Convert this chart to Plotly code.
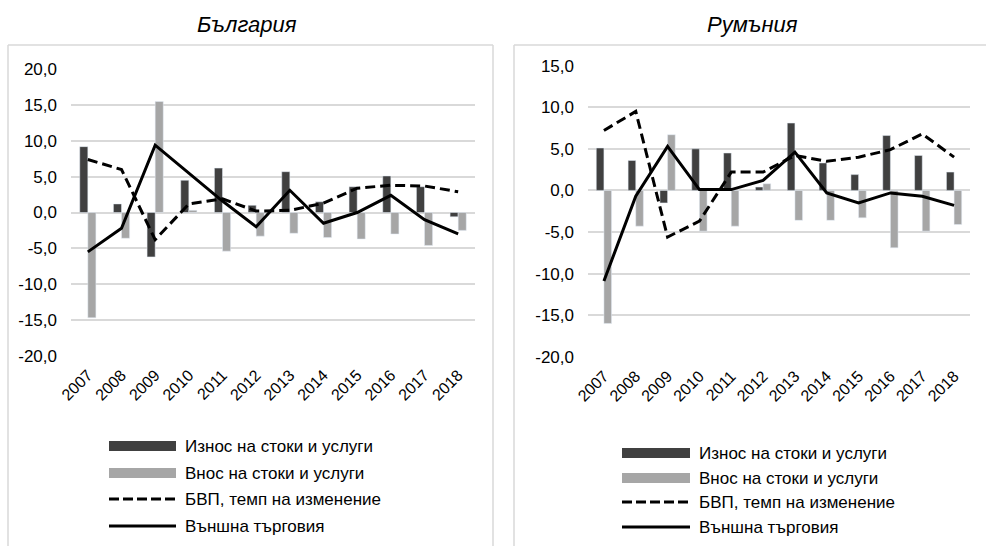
import plotly.graph_objects as go

years = [str(y) for y in range(2007, 2019)]
series_names = ["Износ на стоки и услуги", "Внос на стоки и услуги",
                "БВП, темп на изменение", "Външна търговия"]
panel_titles = ["България", "Румъния"]

bg_exports = [9.2, 1.2, -6.2, 4.5, 6.2, 1.0, 5.7, 1.5, 3.6, 5.1, 3.6, -0.6]
bg_imports = [-14.7, -3.6, 15.5, 0.3, -5.4, -3.3, -2.9, -3.5, -3.7, -3.0, -4.6, -2.5]
bg_gdp = [7.4, 6.0, -3.8, 1.2, 1.9, 0.2, 0.3, 1.3, 3.4, 3.8, 3.7, 2.9]
bg_trade = [-5.5, -2.2, 9.4, 5.5, 1.6, -2.0, 3.1, -1.5, 0.0, 2.4, -1.0, -3.0]

ro_exports = [5.1, 3.6, -1.5, 5.0, 4.5, 0.4, 8.1, 3.3, 1.9, 6.6, 4.2, 2.2]
ro_imports = [-16.0, -4.3, 6.7, -4.9, -4.3, 0.8, -3.6, -3.6, -3.3, -6.9, -4.9, -4.1]
ro_gdp = [7.2, 9.5, -5.6, -3.7, 2.2, 2.2, 4.2, 3.5, 4.0, 4.9, 6.8, 4.0]
ro_trade = [-10.9, -0.7, 5.3, 0.1, 0.1, 1.2, 4.6, -0.3, -1.5, -0.3, -0.7, -1.8]

bg_tickvals = [-20, -15, -10, -5, 0, 5, 10, 15, 20]
bg_ticktext = ["-20,0", "-15,0", "-10,0", "-5,0", "0,0", "5,0", "10,0", "15,0", "20,0"]
ro_tickvals = [-20, -15, -10, -5, 0, 5, 10, 15]
ro_ticktext = ["-20,0", "-15,0", "-10,0", "-5,0", "0,0", "5,0", "10,0", "15,0"]

DARK = "#404040"
LIGHT = "#a6a6a6"
GRID = "#d9d9d9"
FONT = "Liberation Sans, Arial, sans-serif"
W, H = 986, 546

fig = go.Figure()

def add_panel(xa, ya, exp, imp, gdp, trade):
    fig.add_trace(go.Bar(x=years, y=exp, marker_color=DARK, name=series_names[0],
                         xaxis=xa, yaxis=ya, showlegend=False, offsetgroup="a"))
    fig.add_trace(go.Bar(x=years, y=imp, marker_color=LIGHT, name=series_names[1],
                         xaxis=xa, yaxis=ya, showlegend=False, offsetgroup="b"))
    fig.add_trace(go.Scatter(x=years, y=gdp, mode="lines", name=series_names[2],
                             line=dict(color="black", width=3, dash="10px,5px"),
                             xaxis=xa, yaxis=ya, showlegend=False))
    fig.add_trace(go.Scatter(x=years, y=trade, mode="lines", name=series_names[3],
                             line=dict(color="black", width=3),
                             xaxis=xa, yaxis=ya, showlegend=False))

add_panel("x", "y", bg_exports, bg_imports, bg_gdp, bg_trade)
add_panel("x2", "y2", ro_exports, ro_imports, ro_gdp, ro_trade)

def px_x(v):
    return v / W

def px_y(v):
    return 1 - v / H

xcommon = dict(type="category", tickangle=-45, showgrid=False, showline=False,
               zeroline=False, ticks="", tickfont=dict(size=16, color="black", family=FONT),
               ticklabelstandoff=6, automargin=False)
ycommon = dict(showgrid=True, gridcolor=GRID, gridwidth=1.5, zeroline=False, showline=False,
               ticks="", tickmode="array", automargin=False,
               tickfont=dict(size=17, color="black", family=FONT), ticklabelstandoff=13)

fig.update_layout(
    width=W, height=H, autosize=False,
    margin=dict(l=0, r=0, t=0, b=0, pad=0, autoexpand=False),
    paper_bgcolor="white", plot_bgcolor="white",
    barmode="group", bargap=0.52, bargroupgap=0,
    font=dict(family=FONT, color="black"),
    xaxis=dict(domain=[px_x(71), px_x(475)], anchor="y", **xcommon),
    yaxis=dict(domain=[px_y(355.7), px_y(69.3)], anchor="x", range=[-20, 20],
               tickvals=bg_tickvals, ticktext=bg_ticktext, **ycommon),
    xaxis2=dict(domain=[px_x(588), px_x(970)], anchor="y2", **xcommon),
    yaxis2=dict(domain=[px_y(356.7), px_y(65.7)], anchor="x2", range=[-20, 15],
                tickvals=ro_tickvals, ticktext=ro_ticktext, **ycommon),
)

shapes = []
annotations = []
# panel box edges (boxes run past the bottom/right of the picture)
box_line = dict(color=GRID, width=1.5)
box_edges = [
    (8, 45, 493, 45), (8, 45, 8, 546), (493, 45, 493, 546),
    (514, 45, 986, 45), (514, 45, 514, 546),
]
for x0, y0, x1, y1 in box_edges:
    shapes.append(dict(type="line", xref="paper", yref="paper",
                       x0=px_x(x0), x1=px_x(x1), y0=px_y(y0), y1=px_y(y1),
                       line=box_line, layer="below"))

# titles
for title, cx in zip(panel_titles, [247, 752]):
    annotations.append(dict(text="<i>" + title + "</i>", xref="paper", yref="paper",
                            x=px_x(cx), y=px_y(25), xanchor="center", yanchor="middle",
                            showarrow=False, font=dict(size=22, family=FONT, color="black")))

# custom legends
legend_specs = [
    (109, 176, 183, [446, 473, 499, 526]),
    (622, 690, 697, [453, 478, 502, 527]),
]
for sx0, sx1, tx, rows in legend_specs:
    for i, (name, ry) in enumerate(zip(series_names, rows)):
        if i < 2:
            shapes.append(dict(type="rect", xref="paper", yref="paper",
                               x0=px_x(sx0), x1=px_x(sx1), y0=px_y(ry + 5), y1=px_y(ry - 5),
                               fillcolor=DARK if i == 0 else LIGHT, line=dict(width=0)))
        else:
            shapes.append(dict(type="line", xref="paper", yref="paper",
                               x0=px_x(sx0), x1=px_x(sx1), y0=px_y(ry), y1=px_y(ry),
                               line=dict(color="black", width=3,
                                         dash="10px,4px" if i == 2 else "solid")))
        annotations.append(dict(text=name, xref="paper", yref="paper",
                                x=px_x(tx), y=px_y(ry), xanchor="left", yanchor="middle",
                                showarrow=False, font=dict(size=17, family=FONT, color="black")))

fig.update_layout(shapes=shapes, annotations=annotations)
fig.write_html("out.html", config={"displayModeBar": False},
               post_script="document.body.style.margin='0';document.body.style.overflow='hidden';")
